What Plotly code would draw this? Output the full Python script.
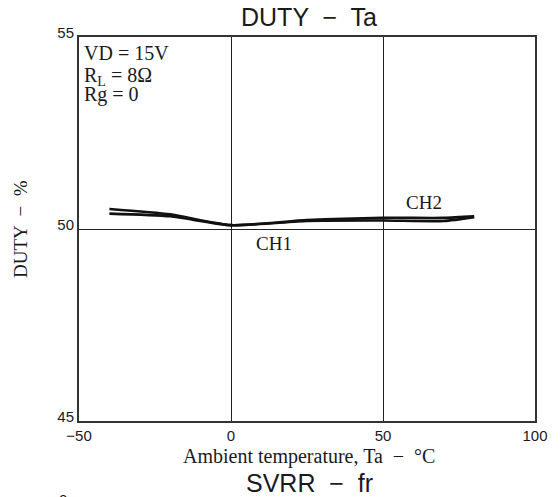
import plotly.graph_objects as go

# Ambient temperature (°C) and output duty (%) per channel
temp_c = [-40, -20, 0, 25, 50, 70, 80]
duty_ch1 = [50.40, 50.33, 50.10, 50.21, 50.22, 50.21, 50.31]
duty_ch2 = [50.52, 50.38, 50.10, 50.23, 50.29, 50.29, 50.33]

x_ticks = [-50, 0, 50, 100]
x_tick_text = ["\u221250", "0", "50", "100"]
y_ticks = [45, 50, 55]

conditions = ["VD = 15V", "R<sub>L</sub> = 8\u03a9", "Rg = 0"]
condition_offsets = [-3, -25, -44]

serif = "Liberation Serif"
sans = "Liberation Sans"
ink = "#1a1a1a"

fig = go.Figure()
for y in (duty_ch1, duty_ch2):
    fig.add_trace(go.Scatter(x=temp_c, y=y, mode="lines",
                             line=dict(color="#111111", width=2.6, shape="spline", smoothing=0.6),
                             showlegend=False, hoverinfo="skip"))

fig.update_layout(
    width=560, height=497,
    margin=dict(l=79, r=19, t=37, b=76),
    paper_bgcolor="white", plot_bgcolor="white",
    xaxis=dict(range=[-50, 100], tickvals=x_ticks, ticktext=x_tick_text,
               showgrid=True, gridcolor="#222222", gridwidth=1,
               zeroline=False, showline=True, linecolor="#333333", linewidth=2, mirror=True,
               ticks="", tickfont=dict(family=sans, size=15, color=ink)),
    yaxis=dict(range=[45, 55], tickvals=y_ticks, ticklabelshift=-4,
               showgrid=True, gridcolor="#222222", gridwidth=1,
               zeroline=False, showline=True, linecolor="#333333", linewidth=2, mirror=True,
               ticks="", tickfont=dict(family=sans, size=15, color=ink)),
)

ann = []
# Chart title
ann.append(dict(text="DUTY  \u2212  Ta", xref="paper", yref="paper", x=0.5, y=1.0,
                xshift=2, yshift=4, xanchor="center", yanchor="bottom", showarrow=False,
                font=dict(family=sans, size=25, color=ink)))
# Axis titles
ann.append(dict(text="DUTY  \u2212  %", xref="paper", yref="paper", x=0, y=0.5,
                xshift=-59, textangle=-90, xanchor="center", yanchor="middle", showarrow=False,
                font=dict(family=serif, size=19, color=ink)))
ann.append(dict(text="Ambient temperature, Ta  \u2212  \u00b0C", xref="paper", yref="paper",
                x=0.5, y=0, xshift=2, yshift=-22, xanchor="center", yanchor="top", showarrow=False,
                font=dict(family=serif, size=20, color=ink)))
# Next chart's heading below
ann.append(dict(text="SVRR  \u2212  fr", xref="paper", yref="paper", x=0.5, y=0,
                xshift=2, yshift=-46, xanchor="center", yanchor="top", showarrow=False,
                font=dict(family=sans, size=25, color=ink)))
ann.append(dict(text="0", xref="paper", yref="paper", x=0, y=0,
                xshift=-16, yshift=-68, xanchor="center", yanchor="top", showarrow=False,
                font=dict(family=sans, size=15, color=ink)))
# Test conditions
for t, dy in zip(conditions, condition_offsets):
    ann.append(dict(text=t, xref="paper", yref="paper", x=0, y=1,
                    xshift=3, yshift=dy, xanchor="left", yanchor="top",
                    showarrow=False, align="left",
                    font=dict(family=serif, size=20, color=ink)))
# Channel labels
ann.append(dict(text="CH1", x=14.3, y=49.61, showarrow=False,
                font=dict(family=serif, size=19, color=ink)))
ann.append(dict(text="CH2", x=63.6, y=50.68, showarrow=False,
                font=dict(family=serif, size=19, color=ink)))
fig.update_layout(annotations=ann)

fig.write_html("out.html")
